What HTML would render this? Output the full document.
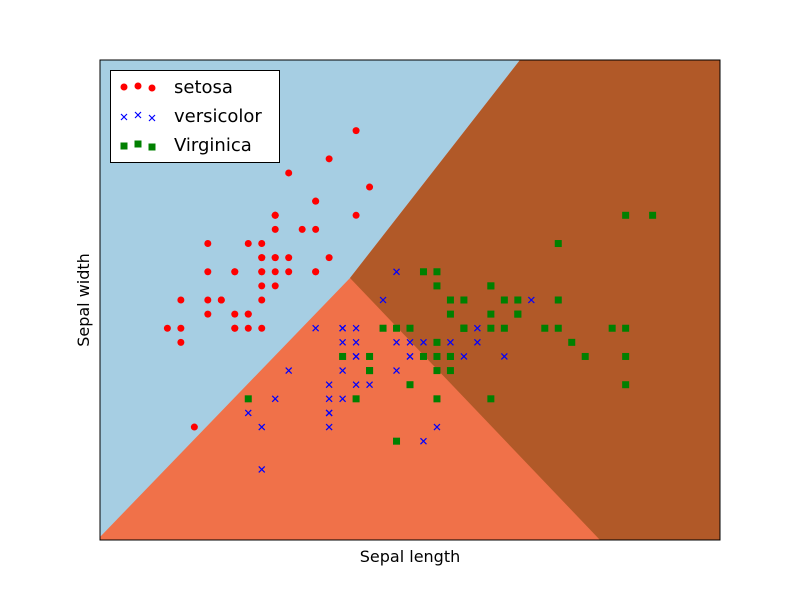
<!DOCTYPE html>
<html><head><style>body{margin:0;background:#fff}svg{display:block}</style></head>
<body>
<svg id="s" width="800" height="600" xmlns="http://www.w3.org/2000/svg" font-family="DejaVu Sans, Liberation Sans, sans-serif">
<rect width="800" height="600" fill="#fff"/>
<rect x="100" y="60" width="620" height="480" fill="#f07149"/>
<polygon points="100,60 520,60 350,278 100,537" fill="#a6cee3"/>
<polygon points="520,60 720,60 720,540 600,540 350,278" fill="#b15928"/>
<g id="pts"></g>
<rect x="100" y="60" width="620" height="480" fill="none" stroke="#000" stroke-width="1"/>
<rect x="110.5" y="70.5" width="169" height="92" fill="#fff" stroke="#000" stroke-width="1"/>
<circle cx="124" cy="87" r="3.5" fill="red"/><circle cx="138" cy="86" r="3.5" fill="red"/><circle cx="152" cy="88" r="3.5" fill="red"/>
<g stroke="blue" stroke-width="1.2"><path d="M121,114l6,6M127,114l-6,6M135,112l6,6M141,112l-6,6M149,115l6,6M155,115l-6,6"/></g>
<rect x="120.5" y="142.5" width="7" height="7" fill="green"/><rect x="134.5" y="140.5" width="7" height="7" fill="green"/><rect x="148.5" y="143.5" width="7" height="7" fill="green"/>
<text x="174" y="93" font-size="18">setosa</text>
<text x="174" y="122" font-size="18">versicolor</text>
<text x="174" y="151" font-size="18">Virginica</text>
<text x="410" y="562" font-size="16" text-anchor="middle">Sepal length</text>
<text transform="translate(89,300) rotate(-90)" font-size="16" text-anchor="middle">Sepal width</text>
</svg>
<script>
var S="5.1,3.5;4.9,3.0;4.7,3.2;4.6,3.1;5.0,3.6;5.4,3.9;4.6,3.4;5.0,3.4;4.4,2.9;4.9,3.1;5.4,3.7;4.8,3.4;4.8,3.0;4.3,3.0;5.8,4.0;5.7,4.4;5.4,3.9;5.1,3.5;5.7,3.8;5.1,3.8;5.4,3.4;5.1,3.7;4.6,3.6;5.1,3.3;4.8,3.4;5.0,3.0;5.0,3.4;5.2,3.5;5.2,3.4;4.7,3.2;4.8,3.1;5.4,3.4;5.2,4.1;5.5,4.2;4.9,3.1;5.0,3.2;5.5,3.5;4.9,3.6;4.4,3.0;5.1,3.4;5.0,3.5;4.5,2.3;4.4,3.2;5.0,3.5;5.1,3.8;4.8,3.0;5.1,3.8;4.6,3.2;5.3,3.7;5.0,3.3";
var V="7.0,3.2;6.4,3.2;6.9,3.1;5.5,2.3;6.5,2.8;5.7,2.8;6.3,3.3;4.9,2.4;6.6,2.9;5.2,2.7;5.0,2.0;5.9,3.0;6.0,2.2;6.1,2.9;5.6,2.9;6.7,3.1;5.6,3.0;5.8,2.7;6.2,2.2;5.6,2.5;5.9,3.2;6.1,2.8;6.3,2.5;6.1,2.8;6.4,2.9;6.6,3.0;6.8,2.8;6.7,3.0;6.0,2.9;5.7,2.6;5.5,2.4;5.5,2.4;5.8,2.7;6.0,2.7;5.4,3.0;6.0,3.4;6.7,3.1;6.3,2.3;5.6,3.0;5.5,2.5;5.5,2.6;6.1,3.0;5.8,2.6;5.0,2.3;5.6,2.7;5.7,3.0;5.7,2.9;6.2,2.9;5.1,2.5;5.7,2.8";
var G="6.3,3.3;5.8,2.7;7.1,3.0;6.3,2.9;6.5,3.0;7.6,3.0;4.9,2.5;7.3,2.9;6.7,2.5;7.2,3.6;6.5,3.2;6.4,2.7;6.8,3.0;5.7,2.5;5.8,2.8;6.4,3.2;6.5,3.0;7.7,3.8;7.7,2.6;6.0,2.2;6.9,3.2;5.6,2.8;7.7,2.8;6.3,2.7;6.7,3.3;7.2,3.2;6.2,2.8;6.1,3.0;6.4,2.8;7.2,3.0;7.4,2.8;7.9,3.8;6.4,2.8;6.3,2.8;6.1,2.6;7.7,3.0;6.3,3.4;6.4,3.1;6.0,3.0;6.9,3.1;6.7,3.1;6.9,3.1;5.8,2.7;6.8,3.2;6.7,3.3;6.7,3.0;6.3,2.5;6.5,3.0;6.2,3.4;5.9,3.0";
function px(a){return 100+(a-3.8)*620/4.6}function py(b){return 540-(b-1.5)*480/3.4}
var h="";
S.split(";").forEach(function(p){var a=p.split(",");h+='<circle cx="'+px(+a[0])+'" cy="'+py(+a[1])+'" r="3.5" fill="red"/>';});
V.split(";").forEach(function(p){var a=p.split(","),x=px(+a[0]),y=py(+a[1]);h+='<path d="M'+(x-3)+','+(y-3)+'l6,6M'+(x+3)+','+(y-3)+'l-6,6" stroke="blue" stroke-width="1.2"/>';});
G.split(";").forEach(function(p){var a=p.split(","),x=px(+a[0]),y=py(+a[1]);h+='<rect x="'+(x-3.5)+'" y="'+(y-3.5)+'" width="7" height="7" fill="green"/>';});
document.getElementById("pts").innerHTML=h;
</script>
</body></html>
